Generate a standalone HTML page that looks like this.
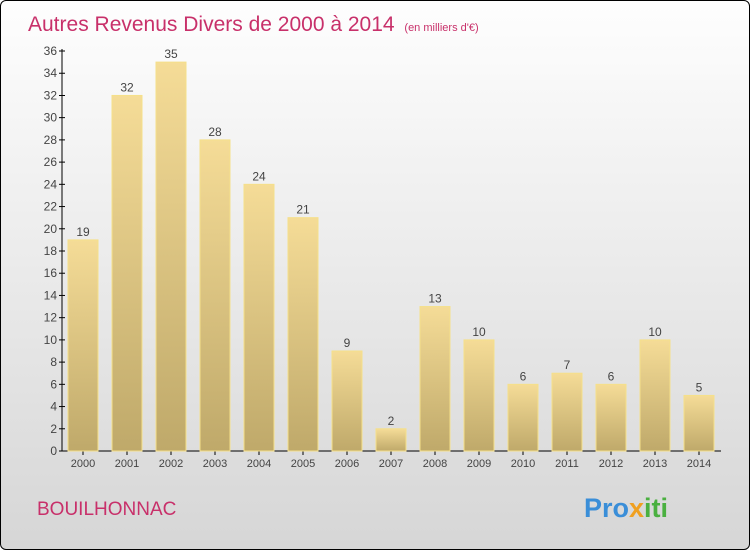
<!DOCTYPE html>
<html><head><meta charset="utf-8"><style>
body{margin:0;width:750px;height:550px;overflow:hidden;font-family:"Liberation Sans",sans-serif}
#wrap{position:absolute;left:0;top:0;width:748px;height:548px;border:1px solid #000;border-radius:6px;background:linear-gradient(#fefefe,#f2f2f2 30%,#d6d6d6);overflow:hidden}
</style></head><body>
<div id="wrap">
<svg width="750" height="550">
<defs><linearGradient id="bg" x1="0" y1="0" x2="0" y2="1"><stop offset="0" stop-color="#f5dc97"/><stop offset="1" stop-color="#bfa96a"/></linearGradient></defs>
<text x="27" y="30" font-size="21" fill="#c8306a">Autres Revenus Divers de 2000 à 2014 <tspan font-size="11" dx="4">(en milliers d'€)</tspan></text>
<g id="axes"></g><g id="bars"></g>
<text x="36" y="514" font-size="19" fill="#c8306a">BOUILHONNAC</text>
<text x="583" y="516" font-size="27" font-weight="bold"><tspan fill="#3a8ed8">Pro</tspan><tspan fill="#f0a020">x</tspan><tspan fill="#4ab040">iti</tspan></text>
</svg></div>
<script>
const years=["2000","2001","2002","2003","2004","2005","2006","2007","2008","2009","2010","2011","2012","2013","2014"];
const values=[19,32,35,28,24,21,9,2,13,10,6,7,6,10,5];
const yTicks=[0,2,4,6,8,10,12,14,16,18,20,22,24,26,28,30,32,34,36];
const NS="http://www.w3.org/2000/svg";
const y=v=>450-v*400/36, x=i=>82+i*44;
function mk(t,a,p){const e=document.createElementNS(NS,t);for(const k in a)e.setAttribute(k,a[k]);p.appendChild(e);return e;}
const ax=document.getElementById('axes'),bg=document.getElementById('bars');
let l=mk('line',{x1:61,y1:48,x2:61,y2:450,stroke:'#000'},ax);


l=mk('line',{x1:61,y1:450,x2:720,y2:450,stroke:'#000'},ax);


yTicks.forEach(v=>{mk('line',{x1:58,x2:64,y1:y(v),y2:y(v),stroke:'#000'},ax);
const t=mk('text',{x:56,y:y(v)+4,'text-anchor':'end','font-size':12,fill:'#444'},ax);t.textContent=v;

});
years.forEach((yr,i)=>{const v=values[i];
const r=mk('rect',{x:x(i)-15,y:y(v),width:30,height:450-y(v),fill:'url(#bg)',stroke:'#f5e08a','stroke-width':1},bg);


const lt=mk('text',{x:x(i),y:y(v)-4,'text-anchor':'middle','font-size':12,fill:'#444'},bg);lt.textContent=v;


mk('line',{x1:x(i),x2:x(i),y1:450,y2:454,stroke:'#000'},ax);
const xt=mk('text',{x:x(i),y:466,'text-anchor':'middle','font-size':11,fill:'#444'},ax);xt.textContent=yr;

});
</script></body></html>
